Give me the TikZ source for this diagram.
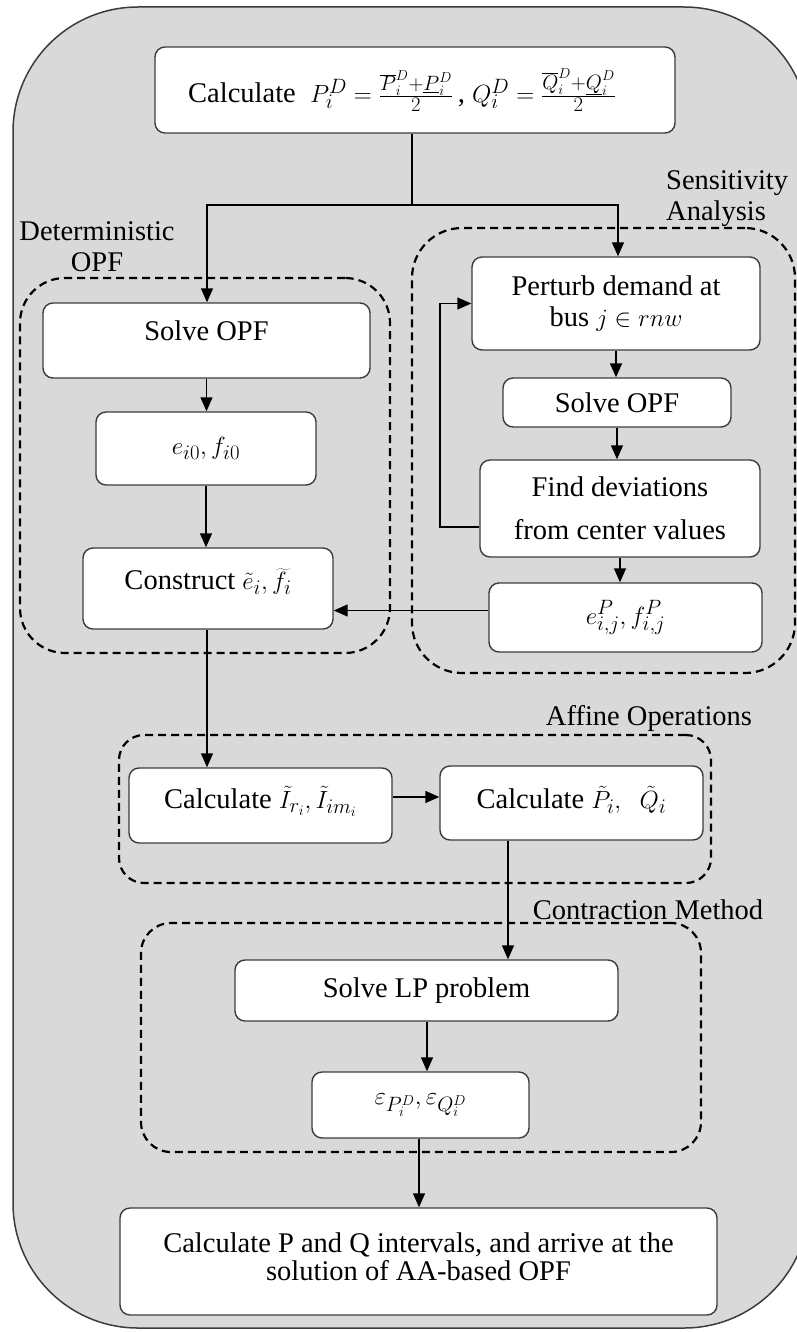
\documentclass[tikz,border=0pt]{standalone}
\usepackage{fontspec}
\setmainfont{Liberation Serif}
\usetikzlibrary{arrows.meta}
\definecolor{panel}{HTML}{D9D9D9}
\definecolor{edge}{HTML}{3C3C3C}
\begin{document}
\begin{tikzpicture}[x=1pt,y=-1pt,
  font=\fontsize{28.5pt}{31pt}\selectfont,
  box/.style={draw=edge, fill=white, line width=1.4pt, rounded corners=10pt, inner sep=0pt, align=center},
  grp/.style={draw=black, dash pattern=on 8pt off 5pt, line width=2.2pt, inner sep=0pt},
  arr/.style={-{Triangle[length=14pt,width=12pt]}, line width=1.4pt, draw=black},
  lnk/.style={line width=1.4pt, draw=black},
  lbl/.style={inner sep=0pt, text=black}]
\useasboundingbox (0,0) rectangle (797,1332);
\clip (0,0) rectangle (797,1332);
% outer panel
\draw[fill=panel, draw=edge, line width=1.5pt, rounded corners=125pt] (13,7) rectangle (809,1328);
% dashed groups
\node[grp, rounded corners=45pt, minimum width=370pt, minimum height=375pt] (det) at (205,465.5) {};
\node[grp, rounded corners=50pt, minimum width=383pt, minimum height=445pt] (sen) at (603.5,450.5) {};
\node[grp, rounded corners=25pt, minimum width=592pt, minimum height=148pt] (aff) at (415,809) {};
\node[grp, rounded corners=30pt, minimum width=560pt, minimum height=229pt] (con) at (421,1037.5) {};
% boxes
\node[box, minimum width=520pt, minimum height=86pt] (top) at (415,90)
  {\raisebox{-14pt}{Calculate\ \ $P_i^D=\frac{\overline{P}_i^D+\underline{P}_i^D}{2}$\,, $Q_i^D=\frac{\overline{Q}_i^D+\underline{Q}_i^D}{2}$}\hspace*{26pt}};
\node[box, minimum width=327pt, minimum height=75pt] (s1) at (206.5,340.5) {\raisebox{20pt}{Solve OPF}};
\node[box, minimum width=220pt, minimum height=73pt] (e0) at (206,448.5) {$e_{i0}, f_{i0}$};
\node[box, minimum width=250pt, minimum height=81pt] (cons) at (208,588.5) {\raisebox{18pt}{Construct $\tilde{e}_i,\widetilde{f}_i$}};
\node[box, minimum width=288pt, minimum height=93pt] (pert) at (616,303.5) {Perturb demand at\\bus $j\in rnw$};
\node[box, minimum width=228pt, minimum height=49pt] (s2) at (617,402.5) {Solve OPF};
\node[box, minimum width=280pt, minimum height=97pt] (find) at (620,508.5) {Find deviations\\[12pt]from center values};
\node[box, minimum width=273pt, minimum height=69pt] (ep) at (625.5,617.5) {$e^P_{i,j}, f^P_{i,j}$};
\node[box, minimum width=263pt, minimum height=75pt] (ci) at (260.5,805.5) {\raisebox{16pt}{Calculate $\tilde{I}_{r_i}, \tilde{I}_{im_i}$}};
\node[box, minimum width=263pt, minimum height=74pt] (cp) at (571.5,803) {\raisebox{12pt}{Calculate $\tilde{P}_i,\ \ \tilde{Q}_i$}};
\node[box, minimum width=383pt, minimum height=61pt] (lp) at (426.5,990.5) {Solve LP problem};
\node[box, minimum width=217pt, minimum height=66pt] (eps) at (420.5,1105) {$\varepsilon_{P_i^D}, \varepsilon_{Q_i^D}$};
\node[box, minimum width=597pt, minimum height=107pt] (fin) at (418.5,1261.5) {\raisebox{10pt}{\shortstack{Calculate P and Q intervals, and arrive at the\\solution of AA-based OPF}}};
% labels
\node[lbl, align=center] (detl) at (97,247) {Deterministic\\OPF};
\node[lbl, align=left, anchor=west] (senl) at (666,199) {Sensitivity\\Analysis};
\node[lbl] (affl) at (649,718) {Affine Operations};
\node[lbl] (conl) at (648,910) {Contraction Method};
% connectors
\coordinate (j) at (412,205);
\coordinate (jl) at (207,205);
\coordinate (jr) at (618,205);
\draw[lnk] (top.south -| j) -- (j);
\draw[arr] (j) -- (jl) -- (s1.north -| jl);
\draw[arr] (j) -- (jr) -- (pert.north -| jr);
\draw[arr] (s1.south) -- (s1.south |- e0.north);
\draw[arr] (e0.south) -- (e0.south |- cons.north);
\draw[arr] ([yshift=7pt]ep.west) -- ([yshift=7pt]ep.west -| cons.east);
\draw[arr] (pert.south) -- (pert.south |- s2.north);
\draw[arr] (s2.south) -- (s2.south |- find.north);
\draw[arr] (find.south) -- (find.south |- ep.north);
\coordinate (lp1) at (440,527);
\draw[arr] (find.west |- lp1) -- (lp1) |- (pert.west);
\coordinate (v0) at (207,0);
\draw[arr] (cons.south -| v0) -- (ci.north -| v0);
\coordinate (h1) at (0,797);
\draw[arr] (ci.east |- h1) -- (cp.west |- h1);
\coordinate (v1) at (508,0);
\draw[arr] (cp.south -| v1) -- (lp.north -| v1);
\coordinate (v2) at (427,0);
\draw[arr] (lp.south -| v2) -- (eps.north -| v2);
\coordinate (v3) at (419,0);
\draw[arr] (eps.south -| v3) -- (fin.north -| v3);
\end{tikzpicture}
\end{document}
